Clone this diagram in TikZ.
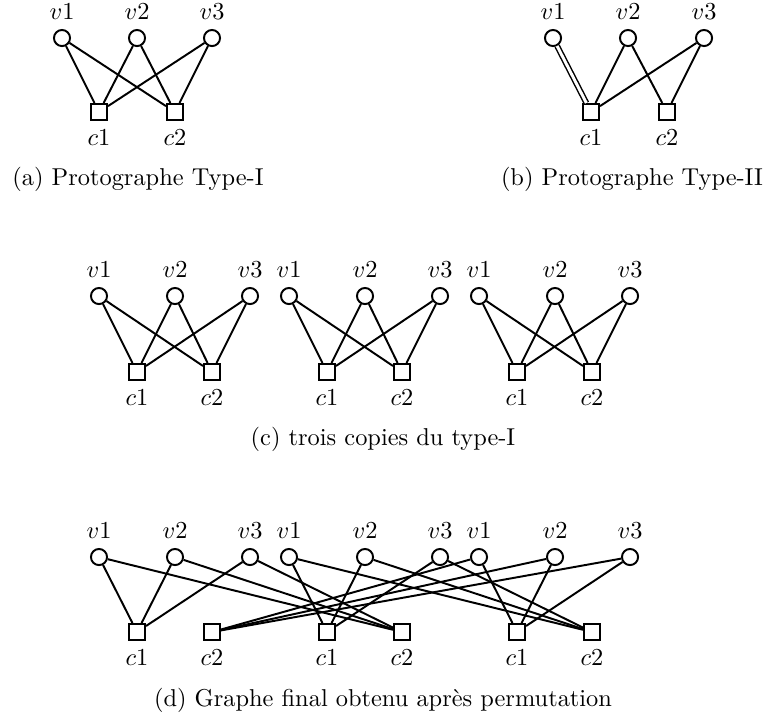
\documentclass[tikz,border=0pt]{standalone}
\usepackage{pgf}
\usetikzlibrary{positioning}
\usetikzlibrary{shapes.geometric}

\begin{document}
\begin{tikzpicture}[x=0.41pt,y=-0.41pt,thick]
	\tikzstyle{var}=[circle,draw,minimum size=6.6pt,inner sep=0pt]
	\tikzstyle{chk}=[rectangle,draw,minimum size=6.6pt,inner sep=0pt]
	\tikzstyle{subcap}=[anchor=base,inner sep=0pt]
	
	\useasboundingbox (0,0) rectangle (763,716);
	
	% (a) protographe type-I
	\node[var] (A_v1) at (62,38)  [label=above:$v1$] {};
	\node[var] (A_v2) at (137,38) [label=above:$v2$] {};
	\node[var] (A_v3) at (212,38) [label=above:$v3$] {};
	\node[chk] (A_c1) at (99,112)  [label=below:$c1$] {};
	\node[chk] (A_c2) at (175,112) [label=below:$c2$] {};
	\node[subcap] (A_cap) at (138,185) {(a) Protographe Type-I};
	
	\path (A_v1) edge (A_c1)
	(A_v1) edge (A_c2)
	(A_v2) edge (A_c1)
	(A_v2) edge (A_c2)
	(A_v3) edge (A_c1)
	(A_v3) edge (A_c2);
	
	% (b) protographe type-II
	\node[var] (B_v1) at (553,38) [label=above:$v1$] {};
	\node[var] (B_v2) at (628,38) [label=above:$v2$] {};
	\node[var] (B_v3) at (704,38) [label=above:$v3$] {};
	\node[chk] (B_c1) at (591,112) [label=below:$c1$] {};
	\node[chk] (B_c2) at (667,112) [label=below:$c2$] {};
	\node[subcap] (B_cap) at (632,185) {(b) Protographe Type-II};
	
	\path (B_v1) edge [double,double distance=1.2pt,line width=0.6pt] (B_c1)
	(B_v2) edge (B_c1)
	(B_v2) edge (B_c2)
	(B_v3) edge (B_c1)
	(B_v3) edge (B_c2);
	
	% (c) trois copies
	\node[var] (C_v11) at (99,296)  [label=above:$v1$] {};
	\node[var] (C_v21) at (175,296) [label=above:$v2$] {};
	\node[var] (C_v31) at (250,296) [label=above:$v3$] {};
	\node[chk] (C_c11) at (137,372) [label=below:$c1$] {};
	\node[chk] (C_c21) at (212,372) [label=below:$c2$] {};
	
	\node[var] (C_v12) at (289,296) [label=above:$v1$] {};
	\node[var] (C_v22) at (365,296) [label=above:$v2$] {};
	\node[var] (C_v32) at (440,296) [label=above:$v3$] {};
	\node[chk] (C_c12) at (327,372) [label=below:$c1$] {};
	\node[chk] (C_c22) at (402,372) [label=below:$c2$] {};
	
	\node[var] (C_v13) at (479,296) [label=above:$v1$] {};
	\node[var] (C_v23) at (555,296) [label=above:$v2$] {};
	\node[var] (C_v33) at (630,296) [label=above:$v3$] {};
	\node[chk] (C_c13) at (517,372) [label=below:$c1$] {};
	\node[chk] (C_c23) at (592,372) [label=below:$c2$] {};
	
	\node[subcap] (C_cap) at (383,445) {(c) trois copies du type-I};
	
	\path (C_v11) edge (C_c11)
	(C_v11) edge (C_c21)
	(C_v21) edge (C_c11)
	(C_v21) edge (C_c21)
	(C_v31) edge (C_c11)
	(C_v31) edge (C_c21)
	(C_v12) edge (C_c12)
	(C_v12) edge (C_c22)
	(C_v22) edge (C_c12)
	(C_v22) edge (C_c22)
	(C_v32) edge (C_c12)
	(C_v32) edge (C_c22)
	(C_v13) edge (C_c13)
	(C_v13) edge (C_c23)
	(C_v23) edge (C_c13)
	(C_v23) edge (C_c23)
	(C_v33) edge (C_c13)
	(C_v33) edge (C_c23);
	
	% (d) graphe final
	\node[var] (D_v11) at (99,557)  [label=above:$v1$] {};
	\node[var] (D_v21) at (175,557) [label=above:$v2$] {};
	\node[var] (D_v31) at (250,557) [label=above:$v3$] {};
	\node[chk] (D_c11) at (137,632) [label=below:$c1$] {};
	\node[chk] (D_c21) at (212,632) [label=below:$c2$] {};
	
	\node[var] (D_v12) at (289,557) [label=above:$v1$] {};
	\node[var] (D_v22) at (365,557) [label=above:$v2$] {};
	\node[var] (D_v32) at (440,557) [label=above:$v3$] {};
	\node[chk] (D_c12) at (327,632) [label=below:$c1$] {};
	\node[chk] (D_c22) at (402,632) [label=below:$c2$] {};
	
	\node[var] (D_v13) at (479,557) [label=above:$v1$] {};
	\node[var] (D_v23) at (555,557) [label=above:$v2$] {};
	\node[var] (D_v33) at (630,557) [label=above:$v3$] {};
	\node[chk] (D_c13) at (517,632) [label=below:$c1$] {};
	\node[chk] (D_c23) at (592,632) [label=below:$c2$] {};
	
	\node[subcap] (D_cap) at (383,706) {(d) Graphe final obtenu apr\`es permutation};
	
	\path (D_v11) edge (D_c11)
	(D_v21) edge (D_c11)
	(D_v31) edge (D_c11)
	(D_v12) edge (D_c12)
	(D_v22) edge (D_c12)
	(D_v32) edge (D_c12)
	(D_v13) edge (D_c13)
	(D_v23) edge (D_c13)
	(D_v33) edge (D_c13)
	(D_v13) edge (D_c21)
	(D_v23) edge (D_c21)
	(D_v33) edge (D_c21)
	(D_v11) edge (D_c22)
	(D_v21) edge (D_c22)
	(D_v31) edge (D_c22)
	(D_v12) edge (D_c23)
	(D_v22) edge (D_c23)
	(D_v32) edge (D_c23);
\end{tikzpicture}
\end{document}
